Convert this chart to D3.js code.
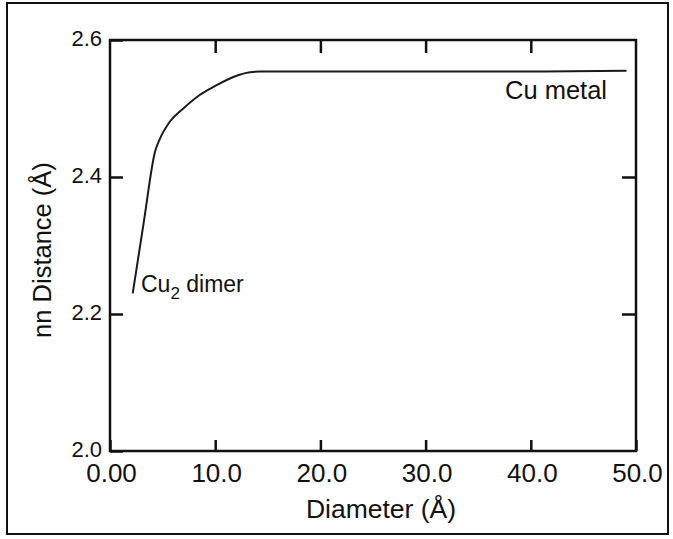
<!DOCTYPE html>
<html lang="en">
<head>
<meta charset="utf-8">
<title>nn Distance vs Diameter</title>
<script src="https://cdn.jsdelivr.net/npm/d3@7"></script>
<style>
body { margin: 0; background: #fff; }
svg { display: block; font-family: "Liberation Sans", Arial, sans-serif; }
</style>
</head>
<body>
<script>
// values
var diameter = [2.16, 3.2, 4.28, 4.75, 5.7, 6.97, 8.56, 10.14, 11.72, 13.31, 14.3, 20.0, 30.0, 40.0, 49.1];
var distance = [2.230, 2.333, 2.437, 2.456, 2.481, 2.500, 2.520, 2.534, 2.546, 2.553, 2.554, 2.554, 2.554, 2.554, 2.555];

var xTicks = [0, 10, 20, 30, 40, 50];
var yTicks = [2.0, 2.2, 2.4, 2.6];

var width = 673, height = 539;
var plotL = 110, plotR = 636, plotT = 40, plotB = 451;

var svg = d3.select("body").append("svg")
    .attr("width", width).attr("height", height);

// outer frame
svg.append("rect")
    .attr("x", 7).attr("y", 3).attr("width", 661).attr("height", 531)
    .attr("fill", "none").attr("stroke", "#111").attr("stroke-width", 2);

var x = d3.scaleLinear().domain([0, 50]).range([plotL, plotR]);
var y = d3.scaleLinear().domain([2.0, 2.6]).range([plotB, plotT]);

var xFmt = function(d) { return d === 0 ? "0.00" : d3.format(".1f")(d); };

// bottom axis with labels
var gx = svg.append("g").attr("transform", "translate(0," + plotB + ")")
    .call(d3.axisBottom(x).tickValues(xTicks).tickFormat(xFmt)
        .tickSizeInner(-11).tickSizeOuter(0).tickPadding(13));
gx.selectAll("text").attr("font-size", 26).attr("fill", "#111").attr("dx", 1);

// left axis with labels
var gy = svg.append("g").attr("transform", "translate(" + plotL + ",0)")
    .call(d3.axisLeft(y).tickValues(yTicks).tickFormat(d3.format(".1f"))
        .tickSizeInner(-13).tickSizeOuter(0).tickPadding(8));
gy.selectAll("text").attr("font-size", 22).attr("fill", "#111").attr("y", -2);

// mirrored ticks on top and right
svg.append("g").attr("transform", "translate(0," + plotT + ")")
    .call(d3.axisTop(x).tickValues(xTicks.slice(1, -1)).tickFormat("")
        .tickSizeInner(-13).tickSizeOuter(0));
svg.append("g").attr("transform", "translate(" + plotR + ",0)")
    .call(d3.axisRight(y).tickValues(yTicks.slice(1, -1)).tickFormat("")
        .tickSizeInner(-14).tickSizeOuter(0));

svg.selectAll(".domain").remove();
svg.selectAll(".tick line").attr("stroke", "#111").attr("stroke-width", 2.5);

// plot box
svg.append("rect")
    .attr("x", plotL).attr("y", plotT).attr("width", plotR - plotL).attr("height", plotB - plotT)
    .attr("fill", "none").attr("stroke", "#111").attr("stroke-width", 2.5);

// curve
var pts = diameter.map(function(d, i) { return [d, distance[i]]; });
var line = d3.line()
    .x(function(d) { return x(d[0]); })
    .y(function(d) { return y(d[1]); })
    .curve(d3.curveMonotoneX);
svg.append("path").datum(pts)
    .attr("d", line)
    .attr("fill", "none").attr("stroke", "#1a1a1a").attr("stroke-width", 2);

// annotations
svg.append("text").attr("x", 505).attr("y", 99)
    .attr("font-size", 25.5).attr("fill", "#111").text("Cu metal");

var dimer = svg.append("text").attr("x", 141).attr("y", 292)
    .attr("font-size", 23).attr("fill", "#111");
dimer.append("tspan").text("Cu");
dimer.append("tspan").attr("font-size", 17).attr("dy", 7).text("2");
dimer.append("tspan").attr("dy", -7).text(" dimer");

// axis titles
svg.append("text").attr("x", 381).attr("y", 518)
    .attr("text-anchor", "middle").attr("font-size", 26.5).attr("fill", "#111")
    .text("Diameter (Å)");
svg.append("text")
    .attr("transform", "translate(51,250) rotate(-90)")
    .attr("text-anchor", "middle").attr("font-size", 25.5).attr("fill", "#111")
    .text("nn Distance (Å)");
</script>
</body>
</html>
